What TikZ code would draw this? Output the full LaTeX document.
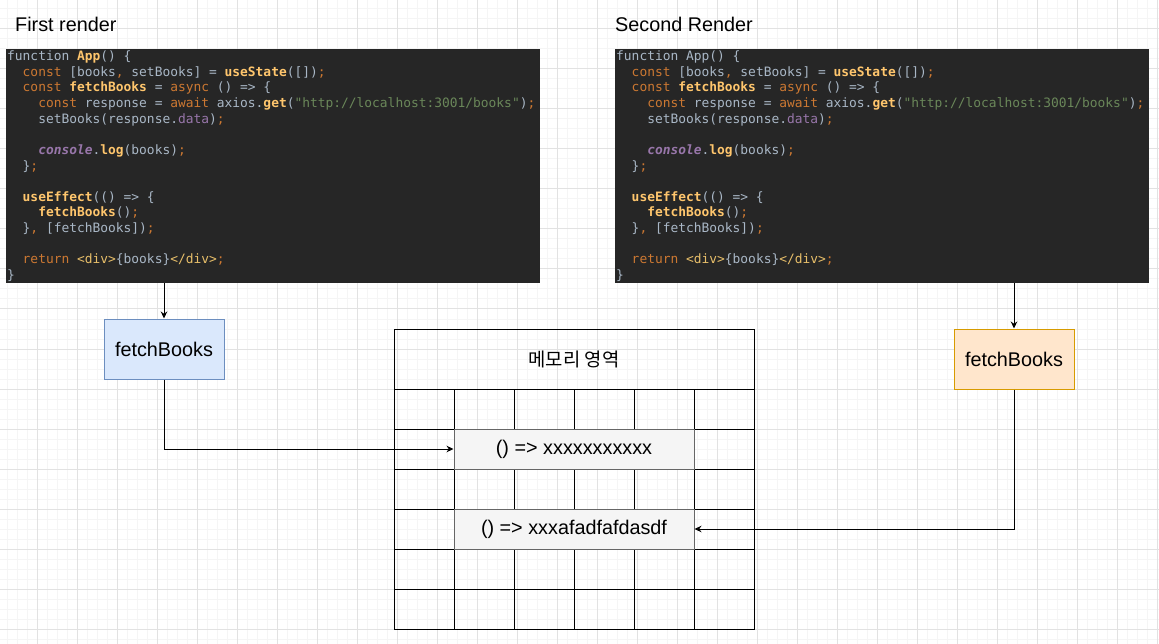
\documentclass[tikz,border=0pt]{standalone}
\usepackage{fontspec}
\setmainfont{Liberation Sans}
\setmonofont{DejaVu Sans Mono}
\newfontfamily\krfont{Noto Sans CJK KR}
\usepackage{tikz}
\usetikzlibrary{arrows.meta,positioning}
\usepackage{xcolor}
\definecolor{codebg}    {RGB}{ 38, 38, 38}
\definecolor{codeplain} {RGB}{169,183,198}
\definecolor{codekw}    {RGB}{204,120, 50}
\definecolor{codefn}    {RGB}{255,198,109}
\definecolor{codestr}   {RGB}{106,135, 89}
\definecolor{codefield} {RGB}{152,118,170}
\definecolor{codetag}   {RGB}{232,191,106}
\definecolor{gridmajor} {RGB}{226,226,226}
\definecolor{gridminor} {RGB}{245,245,245}
\definecolor{bluefill}  {RGB}{218,232,252}
\definecolor{blueline}  {RGB}{108,142,191}
\definecolor{orangefill}{RGB}{255,230,204}
\definecolor{orangeline}{RGB}{215,155,  0}
\definecolor{slotfill}  {RGB}{245,245,245}
\definecolor{slotline}  {RGB}{102,102,102}
\newcommand{\cKw}[1]{\textcolor{codekw}{#1}}
\newcommand{\cFn}[1]{\textcolor{codefn}{\bfseries #1}}
\newcommand{\cStr}[1]{\textcolor{codestr}{#1}}
\newcommand{\cFld}[1]{\textcolor{codefield}{#1}}
\newcommand{\cCon}[1]{\textcolor{codefield}{\bfseries\itshape #1}}
\newcommand{\cTag}[1]{\textcolor{codetag}{#1}}
\newcommand{\cInd}[1]{\hspace*{#1\fontcharwd\font`\x}}
\newcommand{\appcode}[1]{%
\spaceskip=\fontcharwd\font`\x\relax
function #1() \{\\
\cInd{2}\cKw{const} [books\cKw{,} setBooks] = \cFn{useState}([])\cKw{;}\\
\cInd{2}\cKw{const} \cFn{fetchBooks} = \cKw{async} () => \{\\
\cInd{4}\cKw{const} response = \cKw{await} axios.\cFn{get}(\cStr{"http://localhost:3001/books"})\cKw{;}\\
\cInd{4}setBooks(response.\cFld{data})\cKw{;}\\
\mbox{}\\
\cInd{4}\cCon{console}.\cFn{log}(books)\cKw{;}\\
\cInd{2}\}\cKw{;}\\
\mbox{}\\
\cInd{2}\cFn{useEffect}(() => \{\\
\cInd{4}\cFn{fetchBooks}()\cKw{;}\\
\cInd{2}\}\cKw{,} [fetchBooks])\cKw{;}\\
\mbox{}\\
\cInd{2}\cKw{return} \cTag{<div>}\{books\}\cTag{</div>}\cKw{;}\\
\}}

\begin{document}
\begin{tikzpicture}[
    x=1pt, y=-1pt,
    label font/.style={font=\fontsize{19.8}{24}\selectfont},
    title/.style={label font, inner sep=0pt, anchor=base west},
    codebox/.style={fill=codebg, text=codeplain, anchor=north west, align=left, text width=532, minimum width=534, minimum height=234, inner xsep=1, inner ysep=0, font=\ttfamily\fontsize{12.9}{15.64}\selectfont},
    fetchbox/.style={draw, line width=1pt, minimum width=120, minimum height=60, inner sep=0pt, label font},
    firstfetch/.style={fetchbox, fill=bluefill, draw=blueline},
    secondfetch/.style={fetchbox, fill=orangefill, draw=orangeline},
    cell/.style={draw, line width=1pt, minimum width=60, minimum height=40, inner sep=0pt},
    headcell/.style={draw, line width=1pt, minimum width=360, minimum height=60, inner sep=0pt, font=\krfont\fontsize{18.8}{22}\selectfont},
    slot/.style={draw=slotline, fill=slotfill, line width=1pt, minimum width=240, minimum height=40, inner sep=0pt, label font},
    flow/.style={-{Stealth[length=7pt,width=6.5pt]}, line width=1pt}
]
    % --- Canvas and background grid ---
    \fill[white] (0,0) rectangle (1159,644);
    \useasboundingbox (0,0) rectangle (1159,644);
    \foreach \gx in {7,17,...,1157} \draw[gridminor, line width=1pt] (\gx,0) -- (\gx,644);
    \foreach \gy in {9,19,...,639} \draw[gridminor, line width=1pt] (0,\gy) -- (1159,\gy);
    \foreach \gx in {37,77,...,1157} \draw[gridmajor, line width=1pt] (\gx,0) -- (\gx,644);
    \foreach \gy in {29,69,...,629} \draw[gridmajor, line width=1pt] (0,\gy) -- (1159,\gy);

    % --- Render titles ---
    \node[title] (titleFirst) at (15,31.5) {First render};
    \node[title] (titleSecond) at (615,31.5) {Second Render};

    % --- Component source, one per render ---
    \node[codebox] (codeL) at (6,49) {\appcode{\cFn{App}}};
    \node[codebox] (codeR) at (615,49) {\appcode{App}};

    % --- Function objects created by each render ---
    \node[firstfetch] (fetchL) at (164,349) {fetchBooks};
    \node[secondfetch] (fetchR) at (1014,359) {fetchBooks};

    % --- Memory area ---
    \node[headcell] (memHead) at (574,359) {메모리 영역};
    \foreach \r in {1,...,6}
        \foreach \c in {1,...,6}
            \node[cell] (cell-\r-\c) at ({364+60*\c},{369+40*\r}) {};
    \node[slot] (slotOld) at (574,449) {() => xxxxxxxxxxx};
    \node[slot] (slotNew) at (574,529) {() => xxxafadfafdasdf};

    % --- References ---
    \draw[flow] (codeL.south -| fetchL.north) -- (fetchL.north);
    \draw[flow] (fetchL.south) |- (slotOld.west);
    \draw[flow] (codeR.south -| fetchR.north) -- (fetchR.north);
    \draw[flow] (fetchR.south) |- (slotNew.east);

\end{tikzpicture}
\end{document}
